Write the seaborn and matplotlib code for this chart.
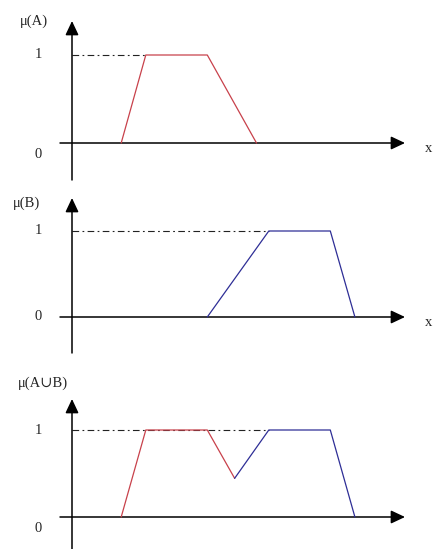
import numpy as np
import matplotlib
matplotlib.use("Agg")
import matplotlib.pyplot as plt
import seaborn as sns

# Membership functions (trapezoids) on the universe x
a_x = [2.0, 3.0, 5.5, 7.5]
a_mu = [0.0, 1.0, 1.0, 0.0]
b_x = [5.5, 8.0, 10.5, 11.5]
b_mu = [0.0, 1.0, 1.0, 0.0]

y_labels = ["\u03bc(A)", "\u03bc(B)", "\u03bc(A\u222aB)"]
tick_labels = ["0", "1"]

RED = "#c8414b"
BLUE = "#2e2e96"
AXIS = "#3a3a3a"
FS = 10.5

sns.set_style("white")
plt.rcParams["font.family"] = ["Liberation Serif", "DejaVu Serif"]

W, H = 434, 549
fig = plt.figure(figsize=(W / 100, H / 100), dpi=100)

# Horizontal layout: origin column and pixels per x unit
X0_PX, PX_PER_X = 72, 24.6
xlim = (-X0_PX / PX_PER_X, (W - X0_PX) / PX_PER_X)

# Vertical layout per panel: (top, bottom, zero line, unit line) in pixels
panels = [
    dict(top=0, bottom=190, zero=143, one=55, ybot=180, ytip=21, lab_x=34, lab_y=21,
         zero_lab=155, show_x=True),
    dict(top=190, bottom=360, zero=317, one=231, ybot=353, ytip=198, lab_x=27, lab_y=203,
         zero_lab=317, show_x=True),
    dict(top=360, bottom=549, zero=517, one=430, ybot=560, ytip=399, lab_x=43, lab_y=383,
         zero_lab=528, show_x=False),
]


def crossing(x1, y1, x2, y2, u1, v1, u2, v2):
    """Intersection of segment (x1,y1)-(x2,y2) with (u1,v1)-(u2,v2)."""
    m1 = (y2 - y1) / (x2 - x1)
    m2 = (v2 - v1) / (u2 - u1)
    xc = (v1 - y1 + m1 * x1 - m2 * u1) / (m1 - m2)
    return xc, y1 + m1 * (xc - x1)


xc, yc = crossing(a_x[2], a_mu[2], a_x[3], a_mu[3], b_x[0], b_mu[0], b_x[1], b_mu[1])
union_red_x = a_x[:3] + [xc]
union_red_mu = a_mu[:3] + [yc]
union_blue_x = [xc] + b_x[1:]
union_blue_mu = [yc] + b_mu[1:]

series = [
    [(a_x, a_mu, RED)],
    [(b_x, b_mu, BLUE)],
    [(union_red_x, union_red_mu, RED), (union_blue_x, union_blue_mu, BLUE)],
]
plateau_end = [a_x[1], b_x[1], b_x[1]]

for i, p in enumerate(panels):
    ax = fig.add_axes([0, 1 - p["bottom"] / H, 1, (p["bottom"] - p["top"]) / H])
    scale = p["zero"] - p["one"]
    to_mu = lambda px: (p["zero"] - px) / scale
    to_x = lambda px: (px - X0_PX) / PX_PER_X
    ax.set_xlim(*xlim)
    ax.set_ylim(to_mu(p["bottom"]), to_mu(p["top"]))
    ax.axis("off")

    # dash-dot guide at membership 1
    ax.plot([0, plateau_end[i]], [1, 1], color="#222222", lw=0.8,
            ls=(0, (6, 3, 1.6, 3)), zorder=1)

    for xs, ms, col in series[i]:
        sns.lineplot(x=xs, y=ms, ax=ax, color=col, lw=0.9, sort=False,
                     estimator=None, zorder=3)

    arrow = dict(arrowstyle="-|>,head_length=0.85,head_width=0.4", color=AXIS,
                 lw=1.1, shrinkA=0, shrinkB=0, mutation_scale=10,
                 fc="black", ec="black")
    # x axis
    ax.annotate("", xy=(to_x(405), 0), xytext=(to_x(60), 0), arrowprops=arrow,
                zorder=2)
    # y axis
    ax.annotate("", xy=(0, to_mu(p["ytip"])), xytext=(0, to_mu(p["ybot"])),
                arrowprops=arrow, zorder=2)

    ax.text(to_x(38), 1, tick_labels[1], ha="center", va="center", fontsize=FS)
    ax.text(to_x(38), to_mu(p["zero_lab"]), tick_labels[0], ha="center",
            va="center", fontsize=FS)
    ax.text(to_x(p["lab_x"]), to_mu(p["lab_y"]), y_labels[i], ha="center",
            va="center", fontsize=FS)
    if p["show_x"]:
        ax.text(to_x(425), to_mu(p["zero"] + 5), "x", ha="left", va="center",
                fontsize=FS)

fig.savefig("out.png", dpi=100, facecolor="white")
